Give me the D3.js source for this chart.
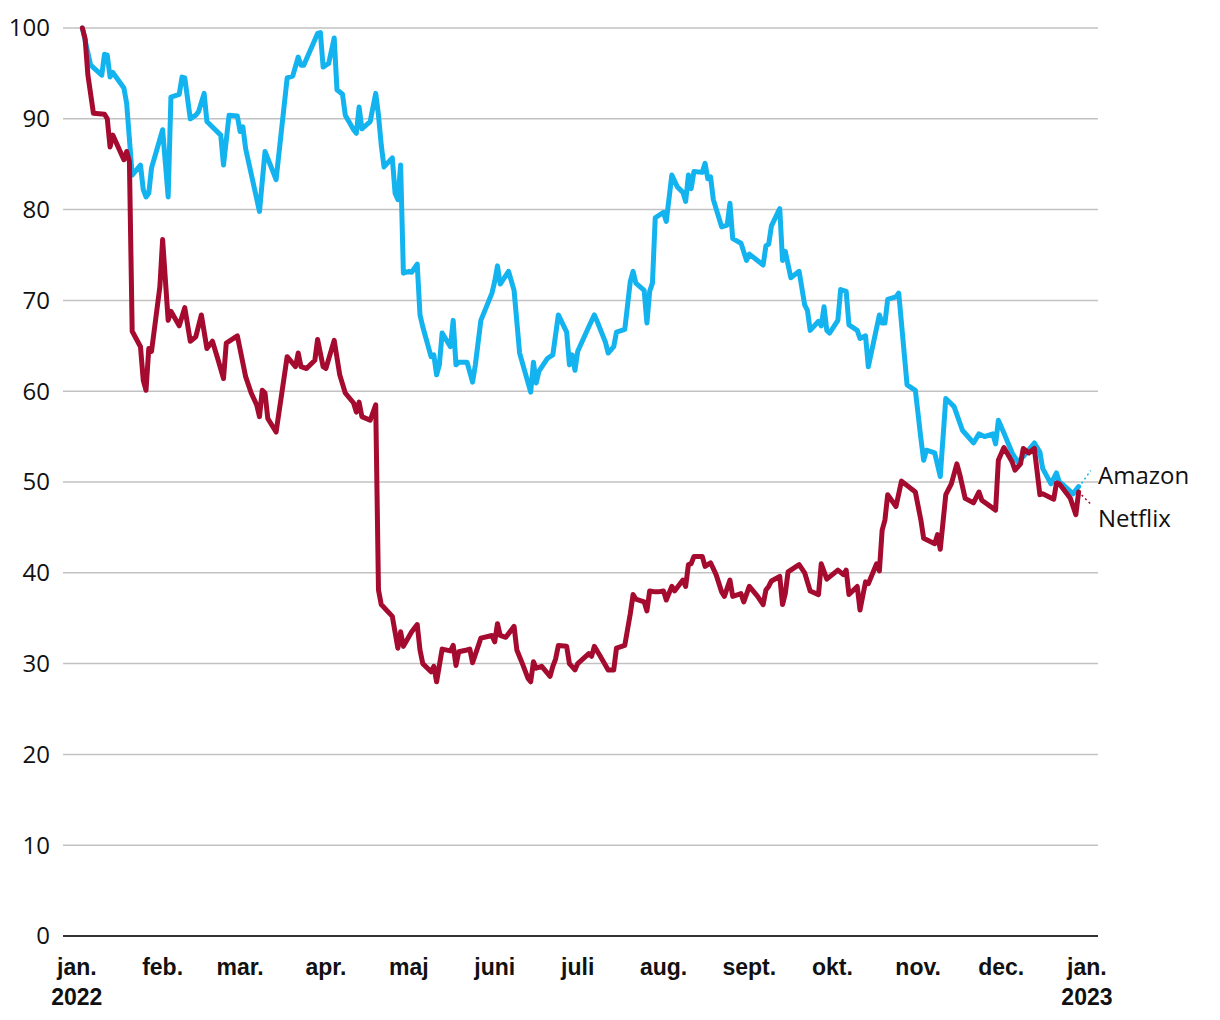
<!DOCTYPE html>
<html>
<head>
<meta charset="utf-8">
<script src="https://cdn.jsdelivr.net/npm/d3@7"></script>
<style>
  body { margin: 0; background: #fff; }
  text { font-family: "Open Sans", "Noto Sans", sans-serif; }
  .xlab { font-family: "Liberation Sans", Arial, sans-serif; font-weight: bold; }
</style>
</head>
<body>
<div id="chart"></div>
<script>
// days counted from 1 jan 2022, values indexed to 100 on first trading day
var amazonDays = [2,5,9,10,11,12,13,17,18,20,23,24,25,26,27,31,33,34,37,38,39,41,43,44,46,47,49,52,53,55,58,59,60,61,66,68,72,76,78,80,81,82,87,88,89,91,93,94,96,97,100,101,102,103,106,108,109,110,111,114,115,116,117,118,120,121,123,124,125,128,129,130,131,132,135,136,137,138,141,143,144,146,150,151,152,153,156,158,160,164,165,166,167,170,172,174,177,178,179,180,181,185,187,188,191,192,194,195,198,200,201,202,205,206,207,208,209,212,213,215,217,219,220,221,222,223,226,227,228,229,230,233,235,236,237,240,242,243,248,249,250,251,254,255,256,258,261,263,264,265,268,269,270,271,272,275,276,278,279,282,283,285,286,290,291,292,293,296,297,300,303,305,306,307,310,312,314,317,320,324,326,328,331,332,333,335,338,340,342,346,348,349,352,354,355,356,360,362];
var amazonValues = [100,95.9,94.8,97.1,97.0,94.6,95.1,93.4,91.7,83.8,84.9,82.2,81.4,81.8,84.6,88.8,81.4,92.4,92.7,94.6,94.5,90.0,90.4,90.8,92.8,89.7,89.1,88.2,84.9,90.4,90.3,88.6,89.1,86.7,79.8,86.4,83.3,94.5,94.7,96.8,95.9,95.9,99.4,99.5,95.7,96.1,98.9,93.2,92.7,90.4,88.8,88.4,91.3,88.9,89.7,92.8,90.4,87.1,84.7,85.7,81.8,81.1,84.9,73.0,73.2,73.1,74.0,68.4,67.1,63.8,64.0,61.8,62.9,66.4,64.9,67.8,62.9,63.2,63.2,61.0,62.9,67.8,70.8,72.1,73.8,71.8,73.2,71.1,64.2,59.9,63.2,60.9,62.2,63.6,64.0,68.4,66.5,62.9,64.0,62.3,64.4,67.1,68.4,67.7,65.4,64.2,64.9,66.5,66.8,72.1,73.2,71.9,71.1,67.5,71.0,71.9,79.1,79.7,78.7,83.8,82.5,81.9,80.9,83.8,82.3,84.2,84.1,85.1,83.4,83.6,81.1,78.1,78.3,80.7,76.8,76.3,74.4,75.1,73.9,76.0,76.2,78.2,80.1,74.4,75.4,72.5,73.2,69.5,68.9,66.7,67.7,67.2,69.3,66.7,66.4,67.8,71.2,71.0,67.3,66.7,65.8,66.1,62.7,68.4,67.5,67.5,70.1,70.4,70.8,60.7,60.1,54.8,52.4,53.5,53.2,50.6,59.2,58.3,55.7,54.3,55.3,55.0,55.3,54.2,56.8,55.4,53.2,52.2,52.8,54.3,53.3,51.5,49.8,51.0,50.0,49.8,48.7,49.5];

var netflixDays = [2,3,4,6,10,11,12,13,17,18,19,20,23,24,25,26,27,30,31,33,34,37,39,41,43,45,47,49,51,53,54,58,61,63,65,66,67,68,69,72,76,79,80,81,83,86,87,89,90,93,95,97,100,101,102,103,106,108,109,110,114,116,117,118,121,123,124,125,128,129,130,132,135,136,137,138,141,142,143,146,150,151,152,153,155,158,159,161,163,164,165,166,168,171,172,173,174,177,178,180,181,185,186,187,189,192,194,195,198,200,201,202,205,206,207,209,210,212,213,215,216,219,220,221,222,223,226,227,229,231,233,234,236,237,240,241,243,246,248,249,250,251,254,255,256,257,261,263,265,268,269,271,275,277,278,279,282,283,285,286,289,290,291,292,293,296,298,303,305,306,310,311,312,314,316,318,319,321,324,326,327,332,333,335,338,339,341,342,344,346,348,349,353,354,355,359,361,362];
var netflixValues = [100,98.8,94.8,90.6,90.5,90.0,86.9,88.2,85.5,86.4,85.3,66.6,64.9,61.2,60.1,64.7,64.4,71.5,76.7,67.8,68.8,67.2,69.2,65.5,66.0,68.4,64.7,65.5,63.5,61.4,65.3,66.1,61.6,59.8,58.5,57.2,60.1,59.8,57.0,55.5,63.8,62.7,64.2,62.7,62.5,63.4,65.7,62.7,62.5,65.6,61.8,59.8,58.7,57.7,58.8,57.2,56.8,58.5,38.1,36.5,35.2,31.7,33.5,31.9,33.5,34.3,31.5,30.0,29.1,29.7,28.0,31.6,31.4,32.0,29.8,31.3,31.5,31.6,30.1,32.8,33.1,32.4,34.4,33.1,32.9,34.1,31.5,30.0,28.4,28.0,30.2,29.5,29.7,28.6,29.7,30.5,32.0,31.9,30.0,29.3,30.0,31.1,30.8,31.9,30.9,29.3,29.3,31.7,32.0,35.5,37.6,37.1,36.8,35.8,38.0,37.9,37.9,38.0,37.0,38.5,38.0,39.2,38.5,40.9,41.0,41.8,41.8,40.7,41.1,39.8,37.9,37.4,39.2,37.4,37.7,36.8,38.5,37.4,36.5,38.1,38.5,39.1,39.6,36.5,37.7,40.1,40.9,40.0,38.0,37.6,41.0,39.3,40.3,39.8,40.3,37.6,38.5,35.9,39.0,38.8,41.0,40.2,44.7,45.8,48.6,47.3,50.1,48.9,45.8,43.8,43.2,44.2,42.6,48.6,49.8,52.0,50.9,48.2,47.7,48.9,48.0,46.9,52.4,53.8,52.2,51.3,52.0,53.7,53.2,53.7,48.6,48.7,48.1,49.9,49.8,48.2,46.4,48.9];

var yTicks = [0,10,20,30,40,50,60,70,80,90,100];
var monthLabels = ["jan.","feb.","mar.","apr.","maj","juni","juli","aug.","sept.","okt.","nov.","dec.","jan."];
var yearLabels = {0: "2022", 12: "2023"};

var W = 1220, H = 1020;
var base = new Date(2022, 0, 1);
function toDate(d) { return d3.timeDay.offset(base, d); }

var svg = d3.select("#chart").append("svg").attr("width", W).attr("height", H);

var x = d3.scaleTime()
  .domain([new Date(2021, 11, 27), new Date(2023, 0, 5)])
  .range([63, 1098]);
var y = d3.scaleLinear().domain([0, 100]).range([936, 28]);

// gridlines
svg.append("g").selectAll("line")
  .data(yTicks.filter(function (t) { return t > 0; }))
  .enter().append("line")
  .attr("x1", x.range()[0]).attr("x2", x.range()[1])
  .attr("y1", function (d) { return y(d); }).attr("y2", function (d) { return y(d); })
  .attr("stroke", "#c2c2c2").attr("stroke-width", 1.5);

// baseline
svg.append("line")
  .attr("x1", x.range()[0]).attr("x2", x.range()[1])
  .attr("y1", y(0)).attr("y2", y(0))
  .attr("stroke", "#333").attr("stroke-width", 2);

// y labels
svg.append("g").selectAll("text")
  .data(yTicks).enter().append("text")
  .attr("x", 50).attr("y", function (d) { return y(d); })
  .attr("dy", "0.35em")
  .attr("text-anchor", "end")
  .attr("font-size", 24).attr("fill", "#111")
  .text(function (d) { return d; });

// month labels
var months = d3.timeMonth.range(new Date(2022, 0, 1), new Date(2023, 0, 2));
var xl = svg.append("g");
months.forEach(function (m, i) {
  xl.append("text")
    .attr("class", "xlab")
    .attr("x", x(m)).attr("y", 975)
    .attr("text-anchor", "middle")
    .attr("font-size", 23).attr("fill", "#111")
    .text(monthLabels[i]);
  if (yearLabels[i]) {
    xl.append("text")
      .attr("class", "xlab")
      .attr("x", x(m)).attr("y", 1005)
      .attr("text-anchor", "middle")
      .attr("font-size", 23).attr("fill", "#111")
      .text(yearLabels[i]);
  }
});

function series(days, vals) {
  return days.map(function (d, i) { return { date: toDate(d), v: vals[i] }; });
}

var line = d3.line()
  .x(function (d) { return x(d.date); })
  .y(function (d) { return y(d.v); })
  .curve(d3.curveLinear);

var lines = [
  { name: "Amazon", data: series(amazonDays, amazonValues), color: "#12b3ee", labelY: 476, off: -16 },
  { name: "Netflix", data: series(netflixDays, netflixValues), color: "#a50a2f", labelY: 519, off: 12 }
];

lines.forEach(function (s) {
  svg.append("path")
    .datum(s.data)
    .attr("d", line)
    .attr("fill", "none")
    .attr("stroke", s.color)
    .attr("stroke-width", 5)
    .attr("stroke-linejoin", "round")
    .attr("stroke-linecap", "round");

  var last = s.data[s.data.length - 1];
  var lx = x(last.date), ly = y(last.v);
  svg.append("line")
    .attr("x1", lx + 3).attr("y1", ly + (s.off < 0 ? -3 : 3))
    .attr("x2", lx + 12).attr("y2", ly + s.off)
    .attr("stroke", s.color).attr("stroke-width", 1.5)
    .attr("stroke-dasharray", "2,3");

  svg.append("text")
    .attr("x", 1098).attr("y", s.labelY)
    .attr("dy", "0.35em")
    .attr("font-size", 24).attr("fill", "#111")
    .text(s.name);
});
</script>
</body>
</html>
